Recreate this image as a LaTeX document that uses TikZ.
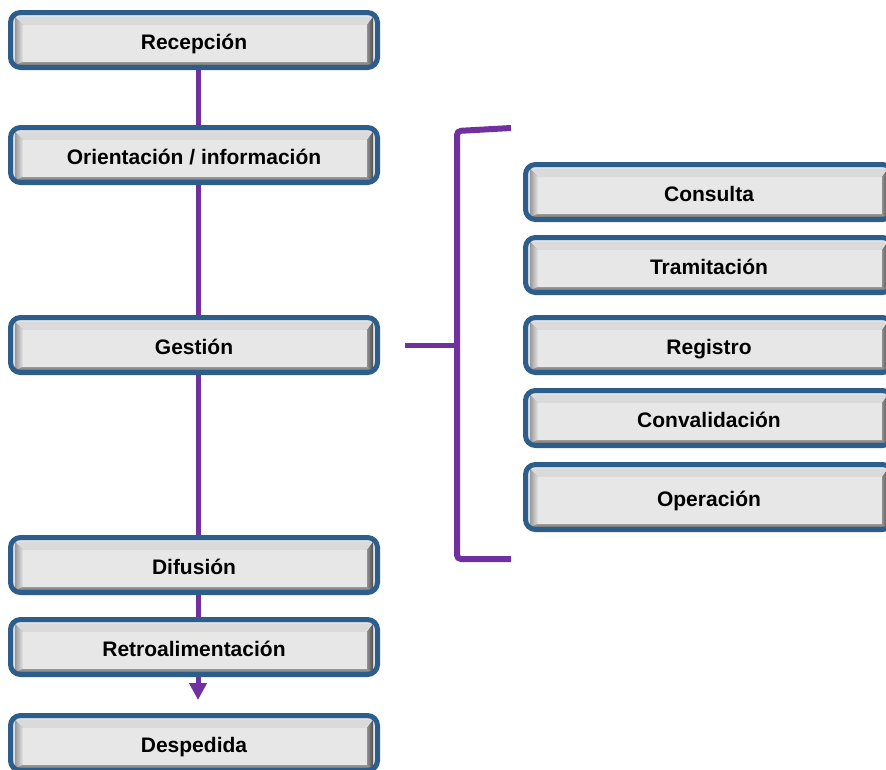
\documentclass[tikz,border=0pt]{standalone}
\usepackage{fontspec}
\setmainfont{Liberation Sans}
\usetikzlibrary{calc,arrows.meta,backgrounds}

\definecolor{rimblue}{HTML}{2C5D8B}
\definecolor{rimlight}{HTML}{DCE2E8}
\definecolor{flowpurple}{HTML}{7030A0}
\definecolor{bevtop}{HTML}{DADADA}
\definecolor{bevbotA}{HTML}{A0A0A0}
\definecolor{bevbotB}{HTML}{6E6E6E}
\definecolor{bevleftout}{HTML}{999999}
\definecolor{bevleftin}{HTML}{E4E4E4}
\definecolor{bevrightin}{HTML}{909090}
\definecolor{bevrightout}{HTML}{4E4E4E}
\definecolor{bevface}{HTML}{E7E7E7}

% bevelled grey face painted inside each button
\newcommand\bevelfill{%
  \pgfpointanchor{path picture bounding box}{north west}\pgfgetlastxy{\pL}{\pT}%
  \pgfpointanchor{path picture bounding box}{south east}\pgfgetlastxy{\pR}{\pB}%
  \fill[sharp corners,bevbotB] (\pL+4.5pt,\pT-4.5pt) rectangle (\pR-4.5pt,\pB+2pt);
  \shade[sharp corners,top color=bevbotA,bottom color=bevbotB]
    (\pL+4.5pt,\pB+2pt) -- (\pL+12.5pt,\pB+6pt) -- (\pR-10.5pt,\pB+6pt) -- (\pR-4.5pt,\pB+2pt) -- cycle;
  \fill[sharp corners,bevtop]
    (\pL+4.5pt,\pT-4.5pt) -- (\pR-4.5pt,\pT-4.5pt) -- (\pR-10.5pt,\pT-12.5pt) -- (\pL+12.5pt,\pT-12.5pt) -- cycle;
  \shade[sharp corners,left color=bevleftout,right color=bevleftin]
    (\pL+4.5pt,\pT-4.5pt) -- (\pL+12.5pt,\pT-12.5pt) -- (\pL+12.5pt,\pB+6pt) -- (\pL+4.5pt,\pB+2pt) -- cycle;
  \shade[sharp corners,left color=bevrightin,right color=bevrightout]
    (\pR-10.5pt,\pT-12.5pt) -- (\pR-4.5pt,\pT-4.5pt) -- (\pR-4.5pt,\pB+2pt) -- (\pR-10.5pt,\pB+6pt) -- cycle;
  \fill[sharp corners,bevface] (\pL+12.5pt,\pT-12.5pt) rectangle (\pR-10.5pt,\pB+6pt);
}

\tikzset{
  bevel/.style={rectangle, rounded corners=10pt, draw=rimblue, line width=5pt,
    fill=rimlight, minimum width=367pt, minimum height=55pt, inner sep=0pt,
    text height=19pt, text depth=0pt,
    font=\fontsize{21}{24}\selectfont\bfseries, path picture={\bevelfill}},
  flow/.style={draw=flowpurple, line width=5pt},
  brace/.style={draw=flowpurple, line width=6pt, rounded corners=4pt},
}

\begin{document}
\begin{tikzpicture}[x=1pt,y=-1pt]
\clip (0,0) rectangle (886,769);

% main sequence
\node[bevel] (rec) at (194,40)  {Recepción};
\node[bevel] (ori) at (194,155) {Orientación / información};
\node[bevel] (ges) at (194,345) {Gestión};
\node[bevel] (dif) at (194,565) {Difusión};
\node[bevel] (ret) at (194,647) {Retroalimentación};
\node[bevel] (des) at (194,743) {Despedida};

% management activities
\node[bevel] (con) at (709,192) {Consulta};
\node[bevel] (tra) at (709,265) {Tramitación};
\node[bevel] (reg) at (709,345) {Registro};
\node[bevel] (cva) at (709,418) {Convalidación};
\node[bevel, minimum height=65pt] (ope) at (709,497) {Operación};

% bracket grouping the activities
\coordinate (bTop) at (511,128);
\coordinate (bBot) at (511,559);
\coordinate (bMid) at (457,345);
\draw[brace] (bTop) -- (457,131) -- (457,559) -- (bBot);

\begin{scope}[on background layer]
  \draw[flow] ([xshift=4pt]rec.south) -- ([xshift=4pt]ret.south);
\end{scope}
\draw[flow, -{Triangle[width=17pt,length=17pt]}]
  ([xshift=4pt]ret.south) -- ([xshift=4pt,yshift=13pt]des.north);
\draw[flow] ([xshift=25pt]ges.east) -- (bMid);
\end{tikzpicture}
\end{document}
